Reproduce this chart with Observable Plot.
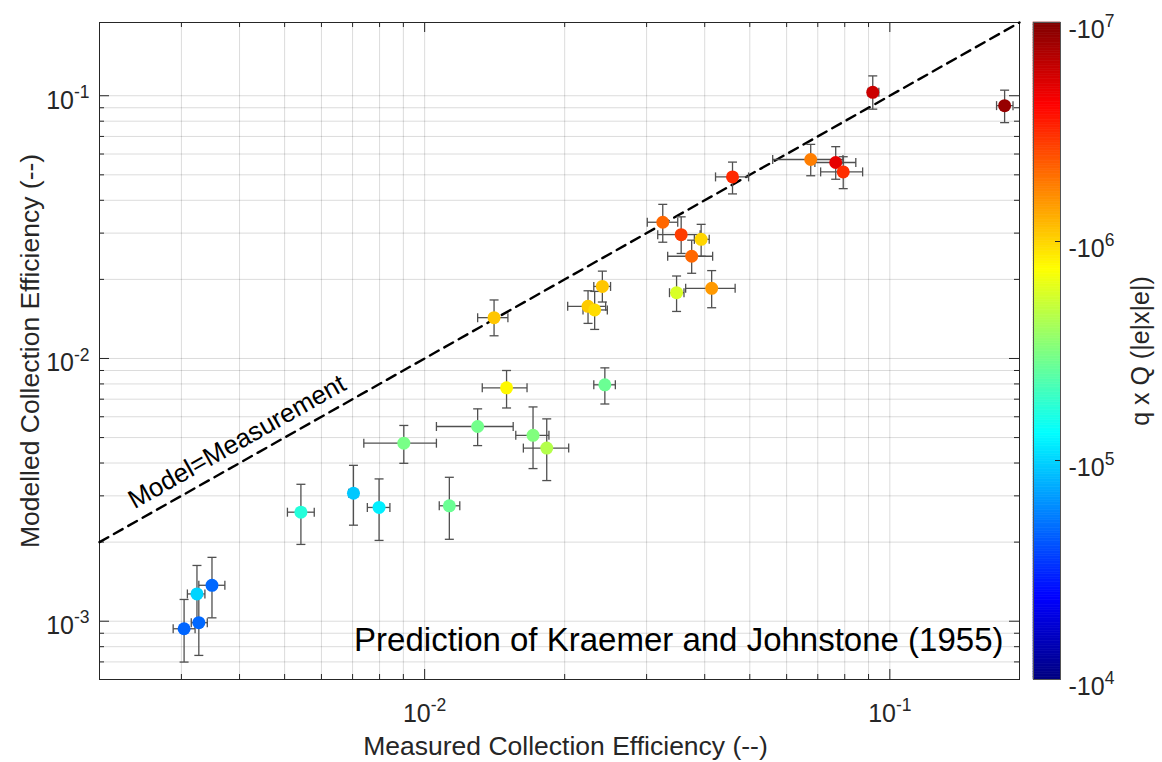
<!DOCTYPE html>
<html><head><meta charset="utf-8">
<script src="https://cdn.jsdelivr.net/npm/d3@7"></script>
<script src="https://cdn.jsdelivr.net/npm/@observablehq/plot@0.6"></script>
<style>
body{margin:0;background:#fff;}
#wrap{position:relative;width:1162px;height:762px;background:#fff;}
#wrap svg{position:absolute;left:0;top:0;}
</style></head><body><div id="wrap"></div>
<script>
// ---- data ----
const measured = [3.04e-3, 3.27e-3, 3.24e-3, 3.49e-3, 5.42e-3, 7.03e-3, 7.98e-3, 1.41e-2, 1.50e-2, 1.30e-2, 1.71e-2, 1.83e-2, 2.44e-2, 1.13e-2, 9.02e-3, 2.245e-2, 2.32e-2, 2.41e-2, 3.48e-2, 4.14e-2, 3.25e-2, 3.56e-2, 3.93e-2, 3.75e-2, 4.59e-2, 6.76e-2, 7.65e-2, 7.94e-2, 9.19e-2, 0.1765];
const measuredLo = [2.88e-3, 3.15e-3, 3.09e-3, 3.27e-3, 5.07e-3, 6.87e-3, 7.53e-3, 1.30e-2, 1.33e-2, 1.06e-2, 1.57e-2, 1.63e-2, 2.31e-2, 1.075e-2, 7.40e-3, 2.03e-2, 2.19e-2, 2.31e-2, 3.36e-2, 3.64e-2, 3.01e-2, 3.17e-2, 3.80e-2, 3.33e-2, 4.22e-2, 5.60e-2, 6.90e-2, 7.10e-2, 8.98e-2, 0.1696];
const measuredHi = [3.21e-3, 3.41e-3, 3.37e-3, 3.72e-3, 5.79e-3, 7.18e-3, 8.42e-3, 1.51e-2, 1.66e-2, 1.55e-2, 1.85e-2, 2.04e-2, 2.57e-2, 1.19e-2, 1.06e-2, 2.45e-2, 2.47e-2, 2.51e-2, 3.61e-2, 4.65e-2, 3.50e-2, 3.91e-2, 4.09e-2, 4.16e-2, 4.97e-2, 7.93e-2, 8.45e-2, 8.74e-2, 9.47e-2, 0.184];
const modelled = [9.36e-4, 9.87e-4, 1.27e-3, 1.37e-3, 2.60e-3, 3.07e-3, 2.71e-3, 1.43e-2, 7.73e-3, 5.51e-3, 5.10e-3, 4.56e-3, 7.94e-3, 2.75e-3, 4.76e-3, 1.58e-2, 1.53e-2, 1.88e-2, 1.78e-2, 1.85e-2, 3.30e-2, 2.96e-2, 2.84e-2, 2.45e-2, 4.91e-2, 5.72e-2, 5.57e-2, 5.13e-2, 0.103, 9.17e-2];
const modelledLo = [6.99e-4, 7.41e-4, 9.9e-4, 1.03e-3, 1.96e-3, 2.32e-3, 2.03e-3, 1.22e-2, 6.48e-3, 4.66e-3, 3.81e-3, 3.43e-3, 6.71e-3, 2.05e-3, 3.99e-3, 1.36e-2, 1.29e-2, 1.64e-2, 1.51e-2, 1.56e-2, 2.77e-2, 2.51e-2, 2.45e-2, 2.11e-2, 4.23e-2, 4.96e-2, 4.81e-2, 4.43e-2, 8.89e-2, 7.90e-2];
const modelledHi = [1.21e-3, 1.25e-3, 1.63e-3, 1.75e-3, 3.32e-3, 3.92e-3, 3.48e-3, 1.67e-2, 9.0e-3, 6.43e-3, 6.54e-3, 5.89e-3, 9.21e-3, 3.53e-3, 5.56e-3, 1.81e-2, 1.80e-2, 2.15e-2, 2.06e-2, 2.16e-2, 3.86e-2, 3.46e-2, 3.24e-2, 2.82e-2, 5.59e-2, 6.53e-2, 6.40e-2, 5.86e-2, 0.119, 0.105];
const chargeProduct = [-4.7e4, -4.8e4, -1.0e5, -4.8e4, -1.7e5, -9.2e4, -1.2e5, -1.1e6, -7.8e5, -2.9e5, -3.2e5, -4.5e5, -2.75e5, -2.75e5, -3.0e5, -1.07e6, -9.5e5, -1.1e6, -5.8e5, -1.5e6, -2.1e6, -2.8e6, -1.0e6, -2.1e6, -3.2e6, -1.8e6, -5.0e6, -3.1e6, -6.0e6, -8.5e6];

const xDomain = [0.002, 0.19];
const yDomain = [6e-4, 0.19];
const xMajor = [1e-2, 1e-1];
const xMajorLabels = ["10^-2", "10^-1"];
const yMajor = [1e-3, 1e-2, 1e-1];
const yMajorLabels = ["10^-3", "10^-2", "10^-1"];
const xMinor = [2e-3,3e-3,4e-3,5e-3,6e-3,7e-3,8e-3,9e-3,2e-2,3e-2,4e-2,5e-2,6e-2,7e-2,8e-2,9e-2];
const yMinor = [6e-4,7e-4,8e-4,9e-4,2e-3,3e-3,4e-3,5e-3,6e-3,7e-3,8e-3,9e-3,2e-2,3e-2,4e-2,5e-2,6e-2,7e-2,8e-2,9e-2];
const cbDomain = [1e4, 1e7];
const cbTicks = [1e4, 1e5, 1e6, 1e7];
const cbTickLabels = ["-10^4", "-10^5", "-10^6", "-10^7"];
const identityEnds = [0.002, 0.19];
const identityLabelAt = [4.15e-3];
const xTitle = "Measured Collection Efficiency (--)";
const yTitle = "Modelled Collection Efficiency (--)";
const cbTitle = "q x Q (|e|x|e|)";
const lineLabel = "Model=Measurement";
const caption = "Prediction of Kraemer and Johnstone (1955)";

// ---- helpers ----
const clamp = v => Math.max(0, Math.min(1, v));
function jet(t) {
  const r = clamp(1.5 - Math.abs(4 * t - 3));
  const g = clamp(1.5 - Math.abs(4 * t - 2));
  const b = clamp(1.5 - Math.abs(4 * t - 1));
  return `rgb(${Math.round(r * 255)},${Math.round(g * 255)},${Math.round(b * 255)})`;
}
const hCap = {draw(ctx, size) { const r = Math.sqrt(size / Math.PI); ctx.moveTo(-r, 0); ctx.lineTo(r, 0); }};
const vCap = {draw(ctx, size) { const r = Math.sqrt(size / Math.PI); ctx.moveTo(0, -r); ctx.lineTo(0, r); }};

const points = measured.map((x, i) => ({
  x, y: modelled[i], xlo: measuredLo[i], xhi: measuredHi[i],
  ylo: modelledLo[i], yhi: modelledHi[i], q: Math.abs(chargeProduct[i])
}));

const W = 1162, H = 762;
const mL = 99, mR = 143, mT = 22, mB = 83;
const innerW = W - mL - mR, innerH = H - mT - mB;
const pxDecX = innerW / Math.log10(xDomain[1] / xDomain[0]);
const pxDecY = innerH / Math.log10(yDomain[1] / yDomain[0]);
const lineAngle = -Math.atan(pxDecY / pxDecX) * 180 / Math.PI;

const font = "'Liberation Sans', Arial, Helvetica, sans-serif";
const ink = "#262626";
const barColor = "#505050";
const tickFont = 25;
const colorScale = {type: "log", domain: cbDomain, interpolate: jet};

const main = Plot.plot({
  width: W, height: H,
  marginLeft: mL, marginRight: mR, marginTop: mT, marginBottom: mB,
  style: {fontFamily: font, fontSize: "23px", color: ink, background: "#fff"},
  x: {type: "log", domain: xDomain, axis: null},
  y: {type: "log", domain: yDomain, axis: null},
  color: colorScale,
  marks: [
    Plot.ruleX([...xMinor, ...xMajor], {stroke: "#000", strokeOpacity: 0.14}),
    Plot.ruleY([...yMinor, ...yMajor], {stroke: "#000", strokeOpacity: 0.14}),
    // inward tick marks
    Plot.ruleX(xMinor, {insetTop: innerH - 5, stroke: ink}),
    Plot.ruleX(xMinor, {insetBottom: innerH - 5, stroke: ink}),
    Plot.ruleX(xMajor, {insetTop: innerH - 10, stroke: ink}),
    Plot.ruleX(xMajor, {insetBottom: innerH - 10, stroke: ink}),
    Plot.ruleY(yMinor, {insetRight: innerW - 5, stroke: ink}),
    Plot.ruleY(yMinor, {insetLeft: innerW - 5, stroke: ink}),
    Plot.ruleY(yMajor, {insetRight: innerW - 10, stroke: ink}),
    Plot.ruleY(yMajor, {insetLeft: innerW - 10, stroke: ink}),
    Plot.frame({stroke: ink, strokeWidth: 1}),
    Plot.axisX(xMajor, {anchor: "bottom", tickSize: 0, tickPadding: 25, fontSize: tickFont,
      tickFormat: d => xMajorLabels[xMajor.indexOf(d)]}),
    Plot.axisY(yMajor, {anchor: "left", tickSize: 0, tickPadding: 10, fontSize: tickFont, dy: 5,
      tickFormat: d => yMajorLabels[yMajor.indexOf(d)]}),
    // identity line
    Plot.line(identityEnds, {x: d => d, y: d => d, stroke: "#000", strokeWidth: 2.4, strokeDasharray: "10,6.5"}),
    Plot.text(identityLabelAt, {x: d => d, y: d => d, text: () => lineLabel, rotate: lineAngle,
      dx: -10, dy: -17, fontSize: 26, fill: "#000", textAnchor: "middle", lineAnchor: "middle"}),
    // error bars
    Plot.link(points, {x1: "xlo", x2: "xhi", y1: "y", y2: "y", stroke: barColor, strokeWidth: 1.3}),
    Plot.link(points, {x1: "x", x2: "x", y1: "ylo", y2: "yhi", stroke: barColor, strokeWidth: 1.3}),
    Plot.dot(points, {x: "xlo", y: "y", symbol: vCap, r: 4.5, stroke: barColor, fill: "none", strokeWidth: 1.3}),
    Plot.dot(points, {x: "xhi", y: "y", symbol: vCap, r: 4.5, stroke: barColor, fill: "none", strokeWidth: 1.3}),
    Plot.dot(points, {x: "x", y: "ylo", symbol: hCap, r: 4.5, stroke: barColor, fill: "none", strokeWidth: 1.3}),
    Plot.dot(points, {x: "x", y: "yhi", symbol: hCap, r: 4.5, stroke: barColor, fill: "none", strokeWidth: 1.3}),
    // points
    Plot.dot(points, {x: "x", y: "y", fill: "q", r: 6.5, stroke: null}),
    // texts
    Plot.text([caption], {frameAnchor: "bottom-right", textAnchor: "end", lineAnchor: "bottom",
      dx: -16, dy: -29, fontSize: 33, fill: "#000"}),
    Plot.text([xTitle], {frameAnchor: "bottom", textAnchor: "middle", lineAnchor: "middle",
      dx: 6, dy: 67, fontSize: 26.5, fill: ink}),
    Plot.text([yTitle], {frameAnchor: "left", textAnchor: "middle", lineAnchor: "middle",
      rotate: -90, dx: -69, fontSize: 26.5, fill: ink})
  ]
});

// colour bar
const cbN = 256;
const cbBands = d3.range(cbN).map(i => ({
  y1: Math.pow(10, 4 + 3 * i / cbN),
  y2: Math.pow(10, 4 + 3 * (i + 1) / cbN),
  v: Math.pow(10, 4 + 3 * (i + 0.5) / cbN)
}));
const cbLeft = 1033, cbRight = 1060;
const cbW = cbRight - cbLeft;
const cbar = Plot.plot({
  width: W, height: H,
  marginLeft: cbLeft, marginRight: W - cbRight, marginTop: mT, marginBottom: mB,
  style: {fontFamily: font, fontSize: "23px", color: ink, background: "transparent"},
  x: {axis: null},
  y: {type: "log", domain: cbDomain, axis: null},
  color: colorScale,
  marks: [
    Plot.rect(cbBands, {y1: "y1", y2: "y2", fill: "v", stroke: "v", strokeWidth: 0.6}),
    Plot.ruleY(cbTicks.slice(1, -1), {insetLeft: cbW - 5, stroke: ink}),
    Plot.frame({stroke: "#555", strokeWidth: 1}),
    Plot.axisY(cbTicks, {anchor: "right", tickSize: 0, tickPadding: 8, fontSize: tickFont, dy: 7,
      tickFormat: d => cbTickLabels[cbTicks.indexOf(d)]}),
    Plot.text([cbTitle], {frameAnchor: "right", textAnchor: "middle", lineAnchor: "middle",
      rotate: -90, dx: 80, fontSize: 25, fill: ink})
  ]
});

function superscripts(svg) {
  d3.select(svg).selectAll('g[aria-label$="tick label"] text').each(function () {
    const s = this.textContent;
    const m = s.match(/^(.*)\^(.*)$/);
    if (!m) return;
    const sel = d3.select(this);
    sel.text(m[1]);
    sel.append("tspan").attr("dy", "-0.62em").attr("font-size", "70%").text(m[2]);
  });
}
superscripts(main);
superscripts(cbar);

const wrap = document.getElementById("wrap");
wrap.appendChild(main);
wrap.appendChild(cbar);
</script>
</body></html>
